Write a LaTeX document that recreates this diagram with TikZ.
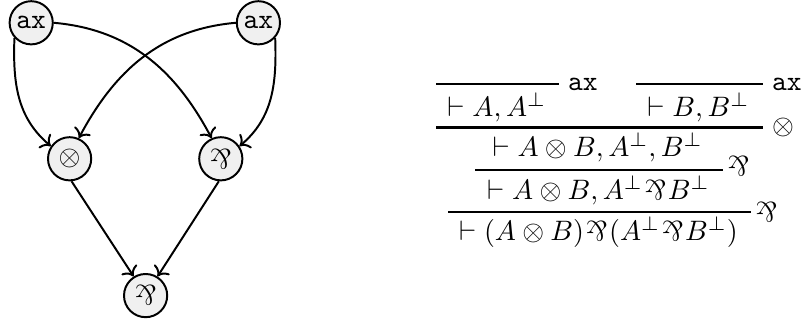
\documentclass[tikz,border=0pt]{standalone}
\usepackage{graphicx}
\usetikzlibrary{arrows.meta, positioning}
\definecolor{cnode}{HTML}{F0F0F0}
\newcommand{\lpar}{\mathbin{\mkern-3mu\rotatebox[origin=c]{180}{\&}\mkern-3mu}}
\tikzset{
  every picture/.style={line width=0.7pt},
  link/.style={draw, circle, fill=cnode, minimum size=0.54cm, inner sep=0pt},
  wire/.style={->},
  infer/.style={line width=1pt},
  seq/.style={anchor=base, inner sep=0pt},
  rname/.style={anchor=west, inner sep=0pt},
}

\begin{document}
\begin{tikzpicture}
  \useasboundingbox (0,0) rectangle (10.025,4.025);
  % proof net
  \node[link] (ax1) at (0.39,3.74) {\texttt{ax}};
  \node[link] (ax2) at (3.23,3.74) {\texttt{ax}};
  \node[link] (ten) at (0.87,2.04) {$\otimes$};
  \node[link] (par1) at (2.76,2.04) {$\lpar$};
  \node[link] (par2) at (1.82,0.33) {$\lpar$};
  \draw[wire] (ax1.222) to[out=-92, in=140] (ten.146);
  \draw[wire] (ax1.east) to[out=-5, in=118] (par1.114);
  \draw[wire] (ax2.west) to[out=185, in=62] (ten.66);
  \draw[wire] (ax2.-42) to[out=-88, in=40] (par1.34);
  \draw[wire] (ten.-85) -- (par2.122);
  \draw[wire] (par1.-95) -- (par2.58);
  % sequent proof
  \node[seq] (s1) at (6.21,2.566) {$\vdash A, A^\perp$};
  \node[seq] (s2) at (8.73,2.566) {$\vdash B, B^\perp$};
  \node[seq] (s3) at (7.47,2.067) {$\vdash A\otimes B, A^\perp, B^\perp$};
  \node[seq] (s4) at (7.48,1.525) {$\vdash A\otimes B, A^\perp\lpar B^\perp$};
  \node[seq] (s5) at (7.48,1.016) {$\vdash (A\otimes B)\lpar(A^\perp\lpar B^\perp)$};
  \draw[infer] (5.45,2.975) -- (6.99,2.975) coordinate (r1);
  \draw[infer] (7.95,2.975) -- (9.54,2.975) coordinate (r2);
  \draw[infer] (5.45,2.434) -- (9.54,2.434) coordinate (r3);
  \draw[infer] (5.94,1.9) -- (9.04,1.9) coordinate (r4);
  \draw[infer] (5.6,1.375) -- (9.39,1.375) coordinate (r5);
  \node[rname, right=1mm of r1] (n1) {\texttt{ax}};
  \node[rname, right=1mm of r2] (n2) {\texttt{ax}};
  \node[rname, right=1mm of r3] (n3) {$\otimes$};
  \node[rname, right=1mm of r4, yshift=0.5mm] (n4) {$\lpar$};
  \node[rname, right=1mm of r5] (n5) {$\lpar$};
\end{tikzpicture}
\end{document}
